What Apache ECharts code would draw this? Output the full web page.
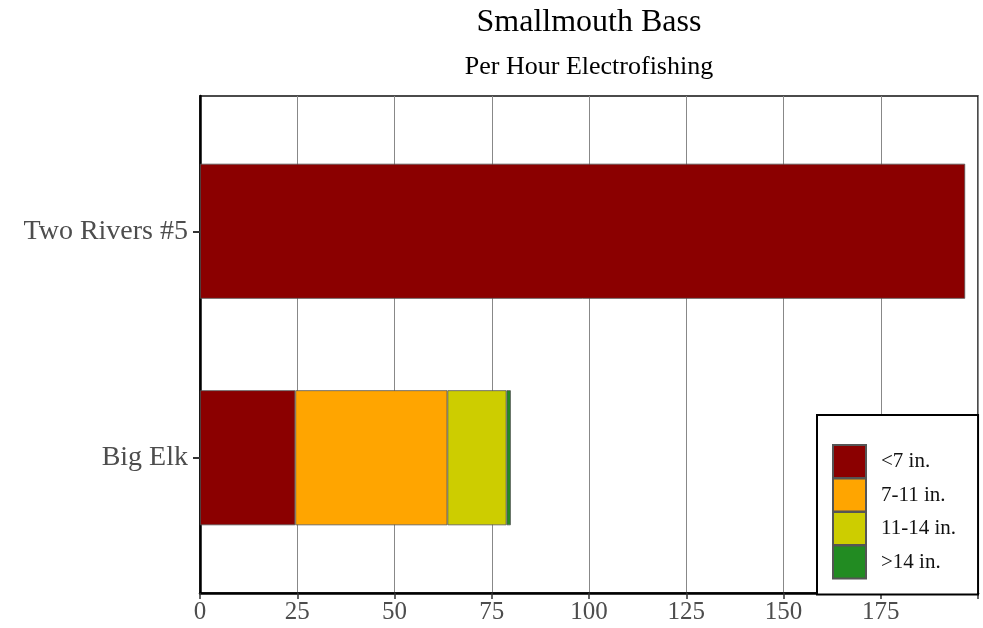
<!DOCTYPE html>
<html>
<head>
<meta charset="utf-8">
<script src="https://cdn.jsdelivr.net/npm/echarts@6/dist/echarts.min.js"></script>
<style>
  html, body { margin: 0; padding: 0; background: #fff; }
  #chart { width: 983px; height: 628px; }
</style>
</head>
<body>
<div id="chart"></div>
<script>
  // data
  const sites = ['Big Elk', 'Two Rivers #5'];
  const sizeClasses = ['<7 in.', '7-11 in.', '11-14 in.', '>14 in.'];
  const under7 = [24.5, 196.7];
  const from7to11 = [39.1, null];
  const from11to14 = [15.2, null];
  const over14 = [1.1, null];
  const xTicks = [0, 25, 50, 75, 100, 125, 150, 175];

  const colors = ['#8B0000', '#FFA500', '#CDCD00', '#228B22'];
  const values = [under7, from7to11, from11to14, over14];
  const serif = '"Liberation Serif", "Times New Roman", serif';

  const chart = echarts.init(document.getElementById('chart'));

  const option = {
    animation: false,
    backgroundColor: '#fff',
    graphic: [
      {
        type: 'text', x: 589, y: 23, z: 10,
        style: { text: 'Smallmouth Bass', font: '32px ' + serif, fill: '#000',
                 align: 'center', verticalAlign: 'middle', textAlign: 'center', textVerticalAlign: 'middle' }
      },
      {
        type: 'text', x: 589, y: 67, z: 10,
        style: { text: 'Per Hour Electrofishing', font: '26px ' + serif, fill: '#000',
                 align: 'center', verticalAlign: 'middle', textAlign: 'center', textVerticalAlign: 'middle' }
      }
    ],
    grid: [
      // panel: border, gridlines, x axis
      { left: 200, right: 5, top: 96, bottom: 35, show: true, borderColor: '#111', borderWidth: 1.5, backgroundColor: '#fff' },
      // bars, laid out like ggplot's discrete scale
      { left: 200, right: 5, top: 118, bottom: 57 }
    ],
    xAxis: [
      {
        gridIndex: 0, type: 'value', min: 0, max: 200, interval: 25,
        axisLine: { show: true, lineStyle: { color: '#000', width: 2.5 } },
        axisTick: { show: true, length: 6, lineStyle: { color: '#333', width: 1.5 } },
        axisLabel: {
          fontFamily: serif, fontSize: 25, color: '#4d4d4d', margin: 7,
          formatter: v => (xTicks.indexOf(v) >= 0 ? String(v) : '')
        },
        splitLine: { show: true, lineStyle: { color: '#888', width: 1 } }
      },
      { gridIndex: 1, type: 'value', min: 0, max: 200, show: false }
    ],
    yAxis: [
      {
        gridIndex: 0, type: 'value', min: 0, max: 1,
        axisLine: { show: true, onZero: false, lineStyle: { color: '#000', width: 2.5 } },
        axisTick: { show: false }, axisLabel: { show: false }, splitLine: { show: false }
      },
      {
        gridIndex: 1, type: 'category', data: sites,
        axisLine: { show: false },
        axisTick: { show: true, alignWithLabel: true, length: 7, lineStyle: { color: '#333', width: 2 } },
        axisLabel: { fontFamily: serif, fontSize: 28, color: '#4d4d4d', margin: 12 }
      }
    ],
    legend: {
      data: sizeClasses,
      orient: 'vertical',
      left: 817, top: 415,
      padding: [29, 22, 15, 15],
      itemWidth: 33, itemHeight: 33, itemGap: -1.5,
      icon: 'rect',
      backgroundColor: '#fff',
      borderColor: '#000', borderWidth: 2,
      textStyle: { fontFamily: serif, fontSize: 21, lineHeight: 22, color: '#111', padding: [0, 0, 0, 10] }
    },
    series: sizeClasses.map((name, i) => ({
      name: name,
      type: 'bar',
      stack: 'total',
      xAxisIndex: 1, yAxisIndex: 1,
      barWidth: 135,
      data: values[i],
      itemStyle: { color: colors[i], borderColor: '#555', borderWidth: 0.8 }
    }))
  };

  chart.setOption(option);
</script>
</body>
</html>
